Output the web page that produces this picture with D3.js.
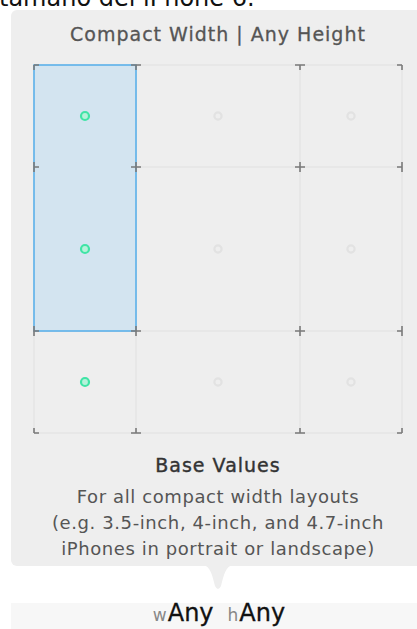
<!DOCTYPE html>
<html>
<head>
<meta charset="utf-8">
<script src="https://cdn.jsdelivr.net/npm/d3@7"></script>
<style>
  body { margin: 0; background: #fff; }
  text { font-family: "DejaVu Sans", Verdana, sans-serif; }
</style>
</head>
<body>
<div id="chart"></div>
<script>
// size classes, columns = width, rows = height
var widthClasses = ["Compact", "Any", "Regular"];
var heightClasses = ["Compact", "Any", "Regular"];
// relative size of each band (any is the wide middle one)
var bandSizes = [1, 1.6, 1];
// which width class is active (dots lit)
var activeWidth = "Compact";
// selected region: width class, from/to height class
var selection = { width: "Compact", heightFrom: "Compact", heightTo: "Any" };
var title = "Compact Width | Any Height";
var infoTitle = "Base Values";
var infoLines = ["For all compact width layouts",
                 "(e.g. 3.5-inch, 4-inch, and 4.7-inch",
                 "iPhones in portrait or landscape)"];
var footer = [["w", "Any"], ["h", "Any"]];

var svgWidth = 417;
var svgHeight = 629;

var svg = d3.select("#chart")
  .append("svg")
  .attr("width", svgWidth)
  .attr("height", svgHeight);

// cut off line of text above the popover
svg.append("text")
  .attr("x", -1)
  .attr("y", 6)
  .attr("font-size", 24)
  .attr("fill", "#111")
  .text("tamaño del iPhone 6.");

// popover
svg.append("rect")
  .attr("x", 11)
  .attr("y", 10)
  .attr("width", 430)
  .attr("height", 556)
  .attr("rx", 6)
  .attr("fill", "#eeeeee");

svg.append("path")
  .attr("d", "M203,565 C210,566 212,574 215,586 Q218,592 221,586 C224,574 226,566 233,565 Z")
  .attr("fill", "#eeeeee");

svg.append("rect")
  .attr("x", 11)
  .attr("y", 603)
  .attr("width", 430)
  .attr("height", 30)
  .attr("fill", "#f7f7f7");

svg.append("text")
  .attr("x", 218)
  .attr("y", 41)
  .attr("text-anchor", "middle")
  .attr("font-size", 19)
  .attr("letter-spacing", 1)
  .attr("fill", "#555")
  .attr("stroke", "#555")
  .attr("stroke-width", 0.3)
  .text(title);

// edges of the bands
var cum = [0];
bandSizes.forEach(function(s, i){ cum.push(cum[i] + s); });

var x = d3.scaleLinear().domain(cum).range([34, 136, 300, 402]);
var y = d3.scaleLinear().domain(cum).range([65, 167, 331, 433]);

function colStart(c){ return x(cum[widthClasses.indexOf(c)]); }
function colEnd(c){ return x(cum[widthClasses.indexOf(c) + 1]); }
function rowStart(r){ return y(cum[heightClasses.indexOf(r)]); }
function rowEnd(r){ return y(cum[heightClasses.indexOf(r) + 1]); }

var grid = svg.append("g");

// light grid lines
grid.selectAll(".vline")
  .data(cum)
  .enter()
  .append("line")
  .attr("x1", (d) => x(d))
  .attr("x2", (d) => x(d))
  .attr("y1", y(0))
  .attr("y2", y(cum[3]))
  .attr("stroke", "#e0e0e0")
  .attr("stroke-width", 1);

grid.selectAll(".hline")
  .data(cum)
  .enter()
  .append("line")
  .attr("y1", (d) => y(d))
  .attr("y2", (d) => y(d))
  .attr("x1", x(0))
  .attr("x2", x(cum[3]))
  .attr("stroke", "#e0e0e0")
  .attr("stroke-width", 1);

// selected region
grid.append("rect")
  .attr("x", colStart(selection.width))
  .attr("y", rowStart(selection.heightFrom))
  .attr("width", colEnd(selection.width) - colStart(selection.width))
  .attr("height", rowEnd(selection.heightTo) - rowStart(selection.heightFrom))
  .attr("fill", "#d3e4f0")
  .attr("stroke", "#5cb1ea")
  .attr("stroke-width", 1.6);

// tick marks at each intersection, arms only pointing inward
var arm = 5;
var points = [];
cum.forEach(function(cx, i){
  cum.forEach(function(cy, j){
    points.push({ i: i, j: j, x: x(cx), y: y(cy) });
  });
});

grid.selectAll(".tick")
  .data(points)
  .enter()
  .append("path")
  .attr("d", function(d){
    var p = "";
    if (d.i > 0) p += "M" + (d.x - arm) + "," + d.y + "H" + d.x;
    if (d.i < 3) p += "M" + d.x + "," + d.y + "H" + (d.x + arm);
    if (d.j > 0) p += "M" + d.x + "," + (d.y - arm) + "V" + d.y;
    if (d.j < 3) p += "M" + d.x + "," + d.y + "V" + (d.y + arm);
    return p;
  })
  .attr("stroke", "#7a7a7a")
  .attr("stroke-width", 1.6)
  .attr("fill", "none");

// dots in the middle of each cell
var cells = [];
widthClasses.forEach(function(w){
  heightClasses.forEach(function(h){
    cells.push({ w: w, h: h, active: w === activeWidth });
  });
});

grid.selectAll(".dot")
  .data(cells)
  .enter()
  .append("circle")
  .attr("cx", (d) => (colStart(d.w) + colEnd(d.w)) / 2)
  .attr("cy", (d) => (rowStart(d.h) + rowEnd(d.h)) / 2)
  .attr("r", (d) => d.active ? 4 : 3.6)
  .attr("fill", (d) => d.active ? "#b6f2da" : "none")
  .attr("stroke", (d) => d.active ? "#3fe4a6" : "#e2e2e2")
  .attr("stroke-width", 2.2);

// info text
svg.append("text")
  .attr("x", 218)
  .attr("y", 472)
  .attr("text-anchor", "middle")
  .attr("font-size", 19)
  .attr("letter-spacing", 1)
  .attr("fill", "#333")
  .attr("stroke", "#333")
  .attr("stroke-width", 0.4)
  .text(infoTitle);

svg.selectAll(".info")
  .data(infoLines)
  .enter()
  .append("text")
  .attr("x", 218)
  .attr("y", (d, i) => 503 + i * 26)
  .attr("text-anchor", "middle")
  .attr("font-size", 18)
  .attr("letter-spacing", 0.6)
  .attr("fill", "#555")
  .text((d) => d);

// footer
var foot = svg.append("text")
  .attr("x", 219)
  .attr("y", 621)
  .attr("text-anchor", "middle");

footer.forEach(function(f, i){
  foot.append("tspan")
    .attr("dx", i > 0 ? 14 : 0)
    .attr("font-size", 17)
    .attr("fill", "#888")
    .text(f[0]);
  foot.append("tspan")
    .attr("dx", 1)
    .attr("font-size", 24)
    .attr("fill", "#111")
    .attr("stroke", "#111")
    .attr("stroke-width", 0.3)
    .text(f[1]);
});
</script>
</body>
</html>
